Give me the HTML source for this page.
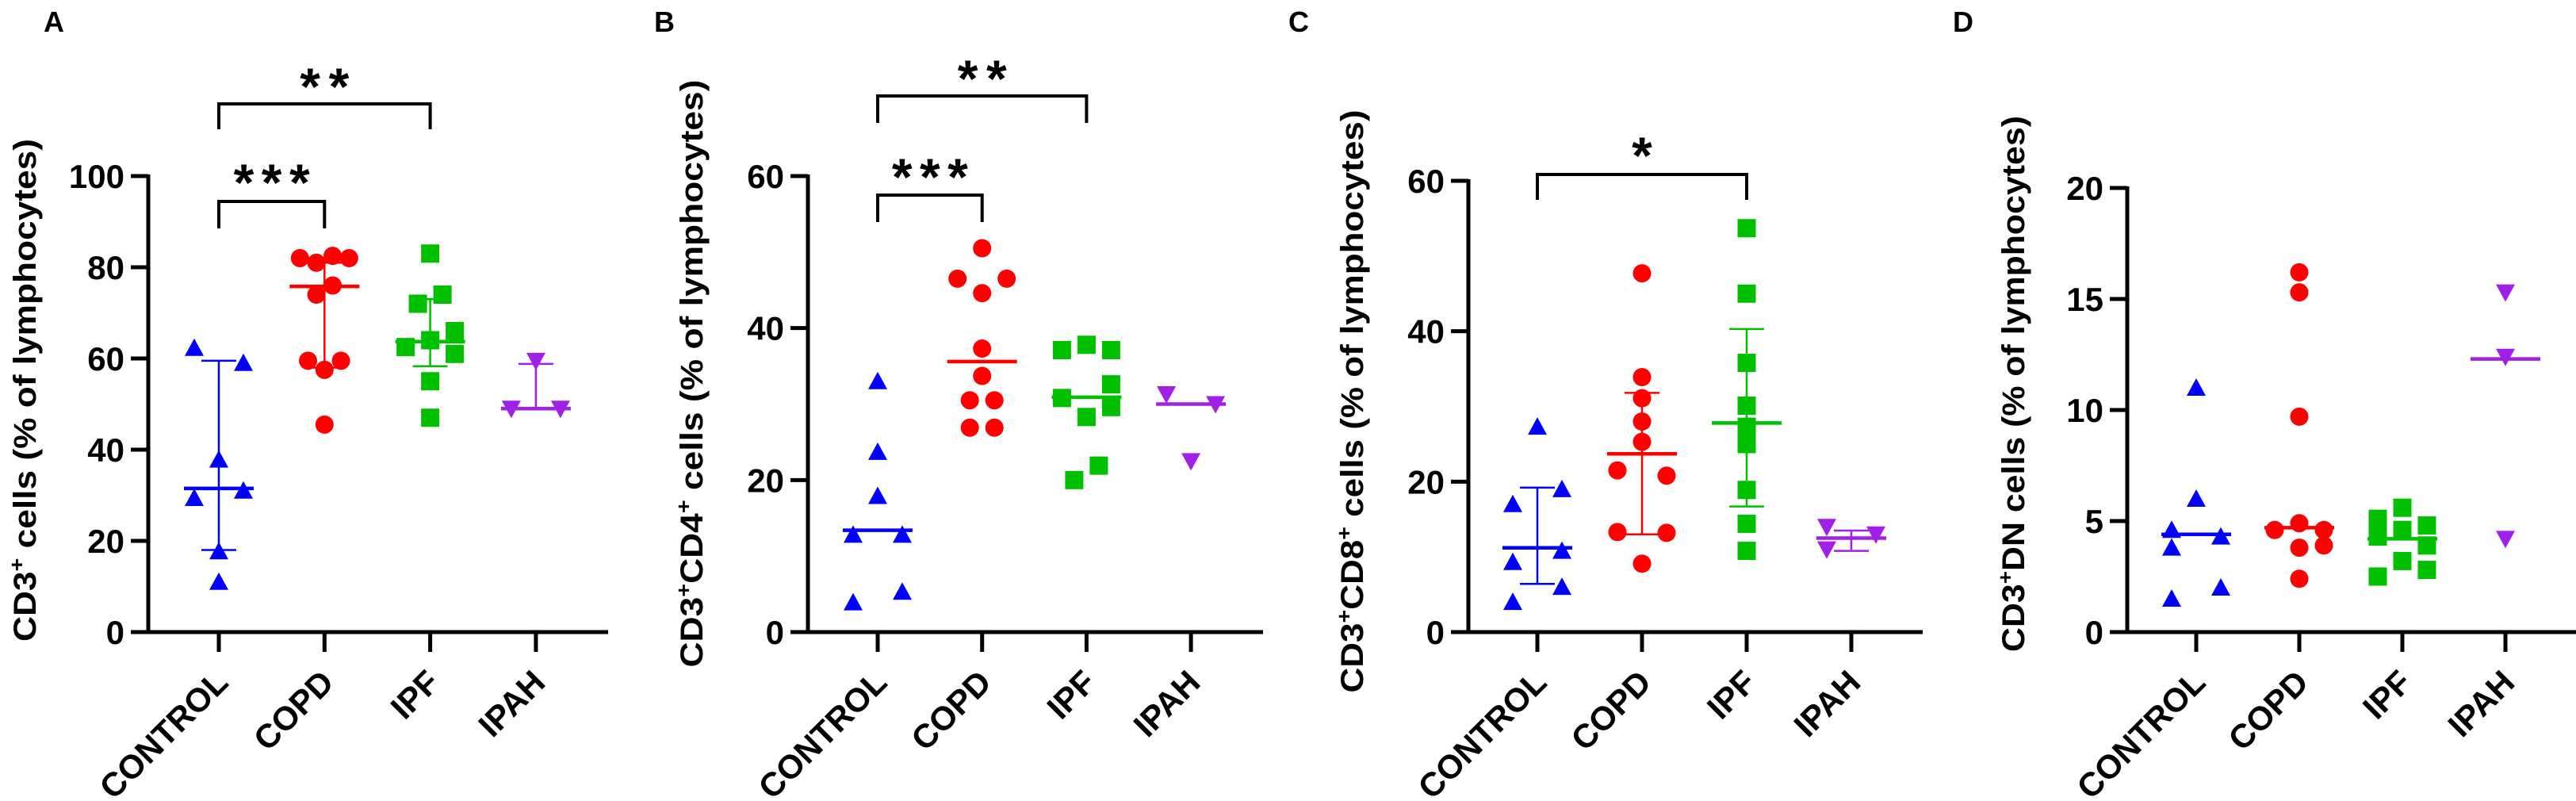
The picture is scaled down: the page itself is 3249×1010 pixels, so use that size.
<!DOCTYPE html>
<html><head><meta charset="utf-8"><style>
html,body{margin:0;padding:0;background:#fff;}
svg{display:block;font-family:"Liberation Sans",Arial,sans-serif;}
</style></head><body>
<svg id="fig" width="3249" height="1010" viewBox="0 0 3249 1010" xmlns="http://www.w3.org/2000/svg"></svg>
<script>
// ---- data ----
const categories = ["CONTROL","COPD","IPF","IPAH"];
// Panel A: CD3+
const aControl = [62.3,59,37.8,31,29.4,17.7,11];
const aCopd = [82,81,82.5,82,76,74,59.5,57.5,59.5,45.5];
const aIpf = [83,74,72,66,64,62.5,61,55,47];
const aIpah = [59.5,49,49];
const aMedians = [31.5,75.8,63.7,49];
const aErrLow = [18,58,58.3,49];
const aErrHigh = [59.5,81,73,58.8];
const aTicks = [0,20,40,60,80,100];
// Panel B: CD3+CD4+
const bControl = [33,23.7,17.9,12.8,12.8,5.3,3.9];
const bCopd = [50.5,46.5,46.5,44.6,37.3,33.7,30.5,30.5,26.9,26.9];
const bIpf = [37.1,37.8,37.1,32.6,30.8,29.6,28.3,21.9,20];
const bIpah = [31.3,30,22.5];
const bMedians = [13.4,35.6,30.9,30];
const bTicks = [0,20,40,60];
// Panel C: CD3+CD8+
const cControl = [27.3,17,19,10.8,9.3,6,4];
const cCopd = [47.7,33.9,31.1,28,25.3,21.5,20.8,13.3,13.2,9.1];
const cIpf = [53.7,45,35.8,30.1,27.3,25,18.9,14.4,10.8];
const cIpah = [14,11,13];
const cMedians = [11.2,23.7,27.8,12.5];
const cErrLow = [6.4,13,16.7,10.8];
const cErrHigh = [19.2,31.8,40.3,13.5];
const cTicks = [0,20,40,60];
// Panel D: CD3+DN
const dControl = [11,6,4.6,4.3,3.8,2,1.5];
const dCopd = [16.2,15.3,9.7,4.9,4.6,4.6,3.8,3.9,2.4];
const dIpf = [5.6,5.1,4.3,4.6,4.8,3.9,3.2,2.8,2.5];
const dIpah = [15.3,12.4,4.2];
const dMedians = [4.4,4.7,4.2,12.3];
const dTicks = [0,5,10,15,20];
// jitter (horizontal spread of dots, in marker units)
const aJit = [[-1,1,0,1,-1,0,0],[-1,-0.33,0.33,1,0.33,-0.33,-0.67,0,0.67,0],[0,0.5,-0.5,1,0,-1,1,0,0],[0,-1,1]];
const bJit = [[0,0,0,-1,1,1,-1],[0,-1,1,0,0,0,-0.5,0.5,-0.5,0.5],[-1,0,1,1,-1,1,0,0.5,-0.5],[-1,1,0]];
const cJit = [[0,-1,1,1,-1,1,-1],[0,0,0,0,0,-1,1,-1,1,0],[0,0,0,0,0,0,0,0,0],[-1,-1,1]];
const dJit = [[0,0,-1,1,-1,1,-1],[0,0,0,0,-1,1,0,1,0],[0,-1,-1,0,1,1,0,1,-1],[0,0,0]];

const colors = ["#0000ff","#ff0000","#00c000","#a020e8"];
const NS = "http://www.w3.org/2000/svg";
const svg = document.getElementById("fig");
function el(tag, attrs, parent){
  const e = document.createElementNS(NS, tag);
  for (const k in attrs) e.setAttribute(k, attrs[k]);
  (parent||svg).appendChild(e);
  return e;
}

function panel(cfg){
  const g = el("g", {});
  
  
  const y = v => cfg.y0 - (v - 0) / cfg.ymax * (cfg.y0 - cfg.ytop);
  const x = i => cfg.x0 + i * cfg.pitch;
  const L = el("text", {x: cfg.letterX, y: 40, "font-size": 36, "font-weight": "bold", "text-anchor": "middle"}, g);
  L.textContent = cfg.letter;
  
  
  const ya = el("line", {x1: cfg.ax, y1: cfg.ytop - 2, x2: cfg.ax, y2: cfg.y0 + 2.5, stroke: "#000", "stroke-width": 5}, g);
  
  
  const xa = el("line", {x1: cfg.ax - 22, y1: cfg.y0, x2: cfg.xend, y2: cfg.y0, stroke: "#000", "stroke-width": 5}, g);
  
  
  cfg.ticks.forEach(t => {
    el("line", {x1: cfg.ax - 22, y1: y(t), x2: cfg.ax, y2: y(t), stroke: "#000", "stroke-width": 5}, g);
    const tl = el("text", {x: cfg.ax - 30, y: y(t) + 15, "font-size": 42, "font-weight": "bold", "text-anchor": "end"}, g);
    tl.textContent = t;
    
    
  });
  categories.forEach((c, i) => {
    el("line", {x1: x(i), y1: cfg.y0, x2: x(i), y2: cfg.y0 + 25, stroke: "#000", "stroke-width": 5}, g);
    const tx = x(i) + 14, ty = cfg.y0 + 66;
    const cl = el("text", {x: tx, y: ty, "font-size": 42, "font-weight": "bold", "text-anchor": "end", transform: `rotate(-45 ${tx} ${ty})`}, g);
    cl.textContent = c;
    
    
  });
  const tt = el("text", {x: 0, y: 0, "font-size": 40, "font-weight": "bold", "text-anchor": "middle",
    transform: `translate(${cfg.titleX} ${cfg.titleY}) rotate(-90)`, textLength: cfg.titleLen, lengthAdjust: "spacingAndGlyphs"}, g);
  tt.innerHTML = cfg.title;
  
  
  cfg.series.forEach((vals, i) => {
    vals.forEach((v, j) => {
      const cx = x(i) + cfg.jit[i][j] * 31, cy = y(v);
      let m;
      if (i === 0) m = el("polygon", {points: `${cx-12},${cy+10} ${cx+12},${cy+10} ${cx},${cy-12}`, fill: colors[i]}, g);
      else if (i === 1) m = el("circle", {cx: cx, cy: cy, r: 11.5, fill: colors[i]}, g);
      else if (i === 2) m = el("rect", {x: cx - 11.5, y: cy - 11.5, width: 23, height: 23, fill: colors[i]}, g);
      else m = el("polygon", {points: `${cx-12},${cy-10} ${cx+12},${cy-10} ${cx},${cy+12}`, fill: colors[i]}, g);
      
      
    });
  });
  categories.forEach((c, i) => {
    if (cfg.errLow) {
      const e = el("path", {d: `M${x(i)},${y(cfg.errLow[i])}V${y(cfg.errHigh[i])}M${x(i)-22},${y(cfg.errLow[i])}H${x(i)+22}M${x(i)-22},${y(cfg.errHigh[i])}H${x(i)+22}`,
        stroke: colors[i], "stroke-width": 2.5, fill: "none"}, g);
      
      
    }
    const md = el("line", {x1: x(i) - 44, x2: x(i) + 44, y1: y(cfg.medians[i]), y2: y(cfg.medians[i]), stroke: colors[i], "stroke-width": 4.5}, g);
    
    
  });
  (cfg.brackets || []).forEach(b => {
    const p = el("path", {d: `M${x(b.from)},${b.bot}V${b.top}H${x(b.to)}V${b.bot}`, stroke: "#000", "stroke-width": 4, fill: "none"}, g);
    
    
    const s = el("text", {x: (x(b.from) + x(b.to)) / 2, y: b.starY + 38, "font-size": 66, "font-weight": "bold", "text-anchor": "middle", textLength: b.stars.length * 34 - 6, lengthAdjust: "spacing"}, g);
    s.textContent = b.stars;
    
    
  });
}

panel({letter: "A", letterX: 68, ax: 187, y0: 797, ytop: 222, ymax: 100, x0: 276, pitch: 133.3, xend: 767,
  ticks: aTicks, series: [aControl, aCopd, aIpf, aIpah], jit: aJit, medians: aMedians, errLow: aErrLow, errHigh: aErrHigh,
  title: 'CD3<tspan baseline-shift="super" font-size="26">+</tspan> cells (% of lymphocytes)', titleX: 45, titleY: 492, titleLen: 634,
  brackets: [{from: 0, to: 1, top: 254, bot: 288, stars: "***", starY: 215}, {from: 0, to: 2, top: 131, bot: 163, stars: "**", starY: 94}]});
panel({letter: "B", letterX: 838, ax: 1019, y0: 797, ytop: 222, ymax: 60, x0: 1107, pitch: 131.7, xend: 1593,
  ticks: bTicks, series: [bControl, bCopd, bIpf, bIpah], jit: bJit, medians: bMedians,
  title: 'CD3<tspan baseline-shift="super" font-size="26">+</tspan>CD4<tspan baseline-shift="super" font-size="26">+</tspan> cells (% of lymphocytes)', titleX: 886, titleY: 471, titleLen: 741,
  brackets: [{from: 0, to: 1, top: 246, bot: 280, stars: "***", starY: 208}, {from: 0, to: 2, top: 121, bot: 155, stars: "**", starY: 84}]});
panel({letter: "C", letterX: 1638, ax: 1852, y0: 797, ytop: 228, ymax: 60, x0: 1939, pitch: 132, xend: 2425,
  ticks: cTicks, series: [cControl, cCopd, cIpf, cIpah], jit: cJit, medians: cMedians, errLow: cErrLow, errHigh: cErrHigh,
  title: 'CD3<tspan baseline-shift="super" font-size="26">+</tspan>CD8<tspan baseline-shift="super" font-size="26">+</tspan> cells (% of lymphocytes)', titleX: 1719, titleY: 506, titleLen: 735,
  brackets: [{from: 0, to: 2, top: 220, bot: 252, stars: "*", starY: 181}]});
panel({letter: "D", letterX: 2476, ax: 2683, y0: 797, ytop: 237, ymax: 20, x0: 2770, pitch: 130, xend: 3249,
  ticks: dTicks, series: [dControl, dCopd, dIpf, dIpah], jit: dJit, medians: dMedians,
  title: 'CD3<tspan baseline-shift="super" font-size="26">+</tspan>DN cells (% of lymphocytes)', titleX: 2553, titleY: 484, titleLen: 676});
</script>
</body></html>
